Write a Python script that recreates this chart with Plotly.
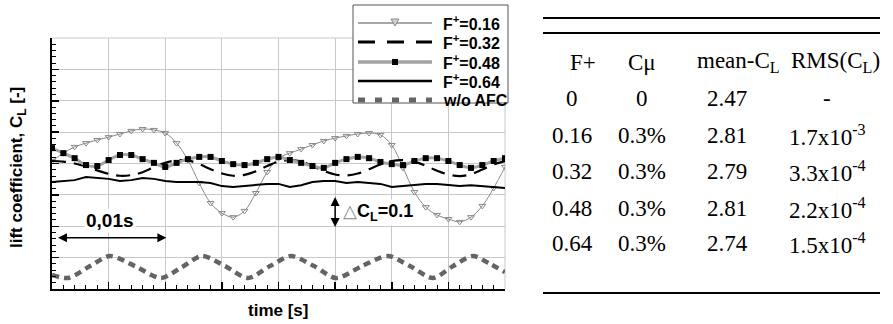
import plotly.graph_objects as go

# ---------------- data ----------------
T_MS = list(range(41))  # time samples in ms

CL_F016 = [2.808, 2.833, 2.853, 2.865, 2.875, 2.884, 2.894, 2.904, 2.910, 2.907,
           2.897, 2.865, 2.811, 2.738, 2.674, 2.642, 2.629, 2.649, 2.706, 2.773,
           2.817, 2.833, 2.846, 2.859, 2.872, 2.881, 2.888, 2.894, 2.897, 2.891,
           2.859, 2.786, 2.709, 2.661, 2.636, 2.623, 2.614, 2.629, 2.665, 2.722,
           2.789]
CL_F032 = [2.808, 2.806, 2.800, 2.790, 2.778, 2.767, 2.761, 2.763, 2.772, 2.788,
           2.802, 2.810, 2.810, 2.798, 2.782, 2.768, 2.761, 2.764, 2.775, 2.792,
           2.806, 2.811, 2.806, 2.792, 2.776, 2.765, 2.762, 2.768, 2.782, 2.797,
           2.808, 2.811, 2.806, 2.793, 2.777, 2.765, 2.760, 2.766, 2.781, 2.797,
           2.808]
CL_F048 = [2.849, 2.833, 2.817, 2.795, 2.792, 2.811, 2.827, 2.827, 2.814, 2.802,
           2.789, 2.802, 2.814, 2.821, 2.821, 2.808, 2.798, 2.795, 2.802, 2.814,
           2.821, 2.811, 2.802, 2.792, 2.786, 2.802, 2.814, 2.821, 2.817, 2.805,
           2.798, 2.795, 2.808, 2.817, 2.817, 2.808, 2.795, 2.786, 2.795, 2.808,
           2.817]
CL_F064 = [2.741, 2.744, 2.747, 2.757, 2.754, 2.751, 2.744, 2.747, 2.754, 2.751,
           2.744, 2.741, 2.741, 2.741, 2.738, 2.728, 2.725, 2.728, 2.731, 2.735,
           2.735, 2.725, 2.731, 2.741, 2.744, 2.744, 2.738, 2.741, 2.738, 2.735,
           2.725, 2.728, 2.731, 2.735, 2.735, 2.731, 2.728, 2.731, 2.728, 2.725,
           2.722]
T_NOAFC_MS = [0, 1.41, 3.36, 5.12, 7.33, 9.62, 11.48, 13.25, 15.28, 17.31, 19.25,
              21.10, 23.14, 25.08, 27.37, 29.67, 31.61, 33.64, 35.41, 37.17, 38.68, 40.0]
CL_NOAFC = [2.445, 2.435, 2.473, 2.505, 2.473, 2.435, 2.470, 2.505, 2.473, 2.435, 2.473,
            2.505, 2.473, 2.435, 2.473, 2.505, 2.473, 2.435, 2.473, 2.505, 2.480, 2.454]

LEGEND_NAMES = ["F<sup>+</sup>=0.16", "F<sup>+</sup>=0.32", "F<sup>+</sup>=0.48",
                "F<sup>+</sup>=0.64", "w/o AFC"]

# table
TABLE_HEADER = ["F+", "C\u03bc", "mean-C<sub>L</sub>", "RMS(C<sub>L</sub>)"]
F_PLUS = ["0", "0.16", "0.32", "0.48", "0.64"]
C_MU = ["0", "0.3%", "0.3%", "0.3%", "0.3%"]
MEAN_CL = ["2.47", "2.81", "2.79", "2.81", "2.74"]
RMS_MANT = [None, "1.7", "3.3", "2.2", "1.5"]
RMS_EXP = [None, "-3", "-4", "-4", "-4"]

DELTA_CL = 0.1
SCALE_T = 0.01

# ---------------- layout helpers (pixel -> paper) ----------------
L, R, T, B = 52, 505, 38, 289
W, H = 893, 324


def px(x):
    return (x - L) / (R - L)


def py(y):
    return (B - y) / (B - T)


t_s = [t / 1000 for t in T_MS]
t_noafc = [t / 1000 for t in T_NOAFC_MS]

fig = go.Figure()
fig.add_trace(go.Scatter(x=t_s, y=CL_F016, mode="lines+markers", name=LEGEND_NAMES[0],
                         line=dict(color="#8a8a8a", width=1, shape="spline"),
                         marker=dict(symbol="triangle-down-open", size=6, color="#8a8a8a",
                                     line=dict(width=1)),
                         showlegend=False))
fig.add_trace(go.Scatter(x=t_s, y=CL_F032, mode="lines", name=LEGEND_NAMES[1],
                         line=dict(color="black", width=2.2, dash="14px,8px", shape="spline"),
                         showlegend=False))
fig.add_trace(go.Scatter(x=t_s, y=CL_F048, mode="lines+markers", name=LEGEND_NAMES[2],
                         line=dict(color="#a3a3a3", width=3, shape="spline"),
                         marker=dict(symbol="square", size=6, color="black"),
                         showlegend=False))
fig.add_trace(go.Scatter(x=t_s, y=CL_F064, mode="lines", name=LEGEND_NAMES[3],
                         line=dict(color="black", width=2),
                         showlegend=False))
fig.add_trace(go.Scatter(x=t_noafc, y=CL_NOAFC, mode="lines", name=LEGEND_NAMES[4],
                         line=dict(color="#646464", width=4.5, dash="7px,5px",
                                   shape="spline", smoothing=0.8),
                         showlegend=False))

axis_common = dict(showgrid=True, gridcolor="#c8c8c8", gridwidth=1, zeroline=False,
                   showticklabels=False, ticks="inside", ticklen=7, tickwidth=1.5,
                   tickcolor="black", showline=True, linecolor="black", linewidth=2)
fig.update_xaxes(range=[0, 0.04], tick0=0, dtick=0.005,
                 minor=dict(dtick=0.001, ticks="inside", ticklen=4, tickcolor="black",
                            tickwidth=1, showgrid=False), **axis_common)
fig.update_yaxes(range=[2.40, 3.20], tick0=2.4, dtick=0.1,
                 minor=dict(dtick=0.02, ticks="inside", ticklen=4, tickcolor="black",
                            tickwidth=1, showgrid=False), **axis_common)

shapes = []
annotations = []

# gray top / right border (grid lines at range ends)
shapes.append(dict(type="line", xref="paper", yref="paper", x0=0, x1=1, y0=1, y1=1,
                   line=dict(color="#c8c8c8", width=1), layer="below"))
shapes.append(dict(type="line", xref="paper", yref="paper", x0=1, x1=1, y0=0, y1=1,
                   line=dict(color="#c8c8c8", width=1), layer="below"))

# ---- legend (drawn manually to match the long samples) ----
shapes.append(dict(type="rect", xref="paper", yref="paper", x0=px(353), x1=px(508),
                   y0=py(103), y1=py(5), line=dict(color="#555555", width=1),
                   fillcolor="white"))
rows_y = [23, 42, 62, 81, 100]
lx0, lx1, lxm = 358, 432, 395
leg_styles = [dict(color="#8a8a8a", width=1.5),
              dict(color="black", width=3, dash="17px,12px"),
              dict(color="#a3a3a3", width=3.5),
              dict(color="black", width=2.5),
              dict(color="#646464", width=5, dash="7px,10px")]
for yy, st, name in zip(rows_y, leg_styles, LEGEND_NAMES):
    shapes.append(dict(type="line", xref="paper", yref="paper", x0=px(lx0), x1=px(lx1),
                       y0=py(yy), y1=py(yy), line=st))
    annotations.append(dict(xref="paper", yref="paper", x=px(441), y=py(yy),
                            xanchor="left", yanchor="middle", showarrow=False,
                            text="<b>" + name + "</b>",
                            font=dict(family="Liberation Sans", size=16, color="black")))
# legend markers
ty = rows_y[0]
shapes.append(dict(type="path", xref="paper", yref="paper",
                   path=f"M {px(lxm-4)},{py(ty-4)} L {px(lxm+4)},{py(ty-4)} L {px(lxm)},{py(ty+3)} Z",
                   line=dict(color="#8a8a8a", width=1), fillcolor="#d0d0d0"))
sy = rows_y[2]
shapes.append(dict(type="rect", xref="paper", yref="paper", x0=px(lxm-3), x1=px(lxm+3),
                   y0=py(sy+3), y1=py(sy-3), line=dict(color="black", width=0),
                   fillcolor="black"))

# ---- scale annotations ----
annotations.append(dict(x=0.0101, y=2.563, ax=0.0004, ay=2.563, xref="x", yref="y",
                        axref="x", ayref="y", text="", showarrow=True, arrowhead=2,
                        arrowside="end+start", arrowsize=1.2, arrowwidth=1.5,
                        arrowcolor="black"))
annotations.append(dict(xref="paper", yref="paper", x=px(110), y=py(220), text="<b>0,01s</b>",
                        showarrow=False, bgcolor="white", xanchor="center", yanchor="middle",
                        font=dict(family="Liberation Sans", size=19, color="black")))
annotations.append(dict(x=0.025, y=2.40 + 0.293, ax=0.025, ay=2.40 + 0.293 - DELTA_CL,
                        xref="x", yref="y", axref="x", ayref="y", text="", showarrow=True,
                        arrowhead=2, arrowside="end+start", arrowsize=1.2, arrowwidth=1.5,
                        arrowcolor="black"))
annotations.append(dict(xref="paper", yref="paper", x=px(341), y=py(212),
                        text="<span style='color:#8a8a8a'>\u25b3</span><b>C<sub>L</sub>=0.1</b>",
                        showarrow=False, bgcolor="white", xanchor="left", yanchor="middle",
                        font=dict(family="Liberation Sans", size=18, color="black")))

# ---- axis titles ----
annotations.append(dict(xref="paper", yref="paper", x=px(18), y=py(168),
                        text="<b>lift coefficient, C<sub>L</sub> [-]</b>", textangle=-90,
                        showarrow=False, xanchor="center", yanchor="middle",
                        font=dict(family="Liberation Sans", size=17, color="black")))
annotations.append(dict(xref="paper", yref="paper", x=px(278), y=py(310),
                        text="<b>time [s]</b>", showarrow=False, xanchor="center",
                        yanchor="middle",
                        font=dict(family="Liberation Sans", size=17, color="black")))

# ---- table ----
for yy in (18, 33, 293):
    shapes.append(dict(type="line", xref="paper", yref="paper", x0=px(543), x1=px(880),
                       y0=py(yy), y1=py(yy), line=dict(color="black", width=2)))
tfont = dict(family="Liberation Serif", size=23, color="black")
head_x = [583, 642, 738, 835]
col_x = [572, 642, 727, 827]
for hx, h in zip(head_x, TABLE_HEADER):
    annotations.append(dict(xref="paper", yref="paper", x=px(hx), y=py(62), text=h,
                            showarrow=False, xanchor="center", yanchor="middle", font=tfont))
row_y = [98, 135, 171, 208, 244]
for i, ry in enumerate(row_y):
    rms = "-" if RMS_MANT[i] is None else f"{RMS_MANT[i]}x10<sup>{RMS_EXP[i]}</sup>"
    for cx, txt in zip(col_x, [F_PLUS[i], C_MU[i], MEAN_CL[i], rms]):
        annotations.append(dict(xref="paper", yref="paper", x=px(cx), y=py(ry), text=txt,
                                showarrow=False, xanchor="center", yanchor="middle",
                                font=tfont))

fig.update_layout(width=W, height=H, margin=dict(l=L, r=W - R, t=T, b=H - B),
                  plot_bgcolor="white", paper_bgcolor="white", shapes=shapes,
                  annotations=annotations, showlegend=False, hovermode=False)

fig.write_html("out.html", config={"displayModeBar": False, "staticPlot": True},
               post_script="document.body.style.margin='0';document.body.style.overflow='hidden';")
